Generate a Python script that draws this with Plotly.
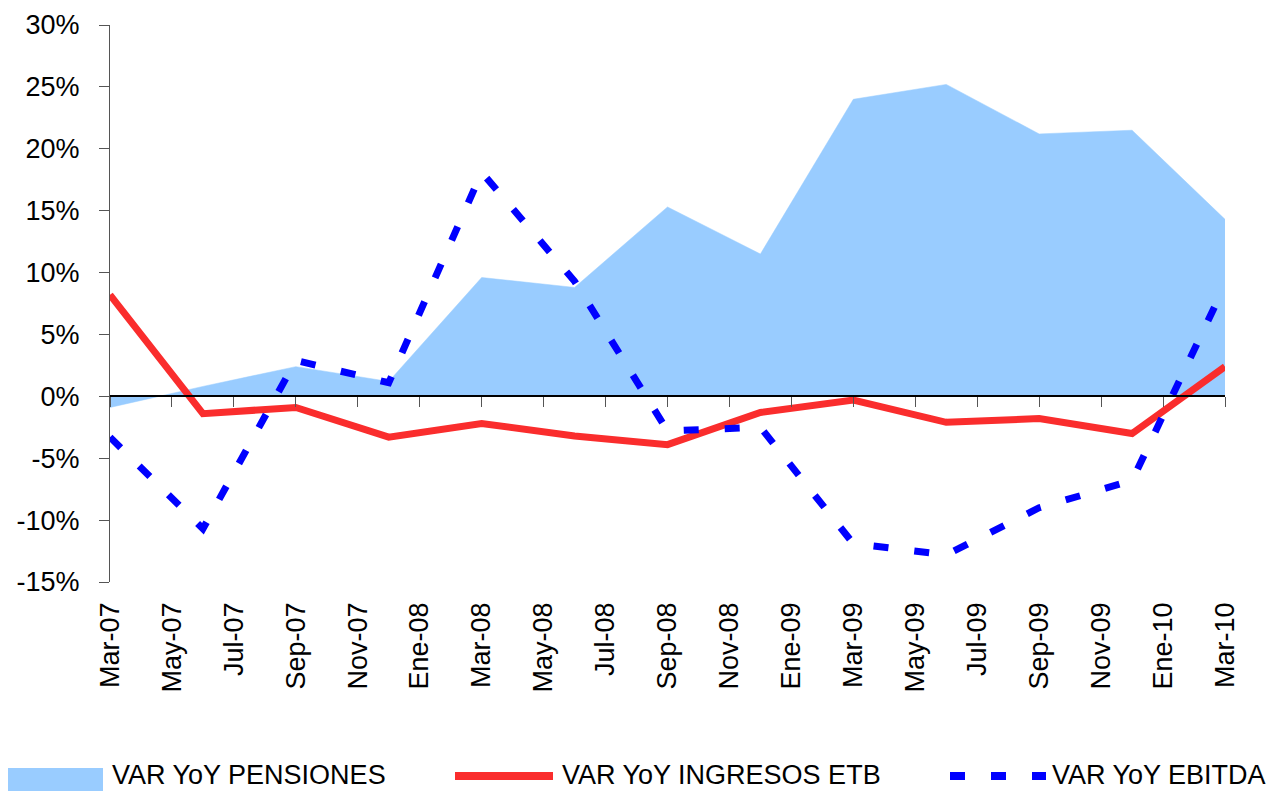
import plotly.graph_objects as go

# Month index (0 = Mar-07) of each quarterly observation
months = [0, 3, 6, 9, 12, 15, 18, 21, 24, 27, 30, 33, 36]

# Year-over-year variation, in percent
pensiones = [-0.9, 0.8, 2.4, 1.2, 9.6, 8.8, 15.3, 11.5, 24.0, 25.2, 21.2, 21.5, 14.3]
ingresos = [8.2, -1.4, -0.9, -3.3, -2.2, -3.2, -3.9, -1.3, -0.3, -2.1, -1.8, -3.0, 2.4]
ebitda = [-3.3, -10.7, 2.9, 1.1, 18.1, 9.3, -2.8, -2.5, -11.9, -12.8, -9.0, -6.8, 9.0]

series_names = ["VAR YoY PENSIONES", "VAR YoY INGRESOS ETB", "VAR YoY EBITDA"]

# Axis labels every two months
tick_months = list(range(0, 37, 2))
tick_labels = ["Mar-07", "May-07", "Jul-07", "Sep-07", "Nov-07", "Ene-08", "Mar-08",
               "May-08", "Jul-08", "Sep-08", "Nov-08", "Ene-09", "Mar-09", "May-09",
               "Jul-09", "Sep-09", "Nov-09", "Ene-10", "Mar-10"]
y_ticks = [-15, -10, -5, 0, 5, 10, 15, 20, 25, 30]
y_labels = [f"{v}%" for v in y_ticks]

FONT = "Liberation Sans, Arial, Helvetica, sans-serif"
W, H = 1272, 791
ML, MR, MT, MB = 110, 47, 25, 209
PW, PH = W - ML - MR, H - MT - MB

BLUE_FILL = "#99CCFF"
RED = "rgb(250,45,45)"
BLUE = "#0000FF"
EBITDA_DASH = "15px,26px"


def px(x):
    """Horizontal pixel position -> paper fraction."""
    return (x - ML) / PW


def py(y):
    """Vertical pixel position (from top) -> paper fraction."""
    return (H - MB - y) / PH


fig = go.Figure()

fig.add_trace(go.Scatter(
    x=months, y=pensiones, name=series_names[0],
    mode="lines", fill="tozeroy", fillcolor=BLUE_FILL,
    line=dict(color=BLUE_FILL, width=0.5),
))
fig.add_trace(go.Scatter(
    x=months, y=ingresos, name=series_names[1], xaxis="x2",
    mode="lines", line=dict(color=RED, width=7),
))
fig.add_trace(go.Scatter(
    x=months, y=ebitda, name=series_names[2], xaxis="x2",
    mode="lines", line=dict(color=BLUE, width=7, dash=EBITDA_DASH),
))

# Legend row along the bottom edge
legend_y = 776
shapes = [
    dict(type="rect", xref="paper", yref="paper",
         x0=px(8), x1=px(103), y0=py(768), y1=py(805),
         fillcolor=BLUE_FILL, line=dict(width=0)),
    dict(type="line", xref="paper", yref="paper",
         x0=px(455), x1=px(553), y0=py(legend_y), y1=py(legend_y),
         line=dict(color=RED, width=8)),
    dict(type="line", xref="paper", yref="paper",
         x0=px(950), x1=px(1046), y0=py(legend_y), y1=py(legend_y),
         line=dict(color=BLUE, width=8, dash=EBITDA_DASH)),
]
annotations = [
    dict(text=name, xref="paper", yref="paper", x=px(x0), y=py(legend_y - 1),
         xanchor="left", yanchor="middle", showarrow=False,
         font=dict(family=FONT, size=27, color="black"))
    for name, x0 in zip(series_names, [110, 560, 1050])
]

fig.update_layout(
    width=W, height=H,
    margin=dict(l=ML, r=MR, t=MT, b=MB, autoexpand=False),
    paper_bgcolor="white", plot_bgcolor="white",
    font=dict(family=FONT, size=27, color="black"),
    showlegend=False,
    shapes=shapes,
    annotations=annotations,
    xaxis=dict(
        range=[0, 36], tickmode="array", tickvals=tick_months, ticktext=tick_labels,
        tickangle=-90, showgrid=False, zeroline=False, showline=False, ticks="",
        ticklabelstandoff=14,
    ),
    xaxis2=dict(
        range=[0, 36], overlaying="x", anchor="free", position=1 / 3,
        tickmode="array", tickvals=tick_months, showticklabels=False,
        ticks="outside", ticklen=10, tickwidth=1.3, tickcolor="#555555",
        showline=True, linecolor="black", linewidth=1.5,
        showgrid=False, zeroline=False,
    ),
    yaxis=dict(
        range=[-15, 30], tickmode="array", tickvals=y_ticks, ticktext=y_labels,
        showgrid=False, zeroline=False, showline=True, linecolor="#555555",
        linewidth=1.3, ticks="outside", ticklen=10, tickwidth=1.3,
        tickcolor="#555555", ticklabelstandoff=14,
    ),
)

fig.write_html("out.html")
